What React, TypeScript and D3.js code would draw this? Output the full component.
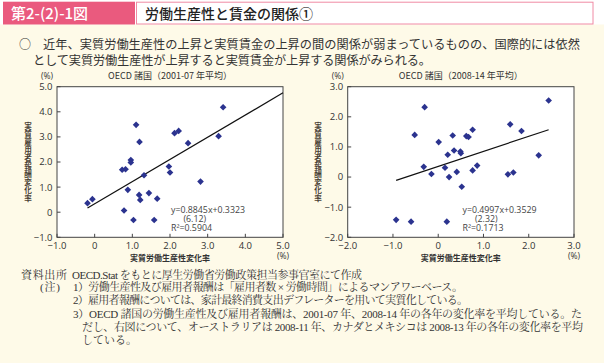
import React from "react";
import * as d3 from "d3";

// ---- data ----
const leftX = [-0.19, -0.06, 1.10, 1.19, 0.96, 0.96, 0.73, 0.82, 1.31, 0.88, 1.18, 1.21, 1.44, 1.66, 0.78, 1.03, 1.58, 1.97, 2.00, 2.12, 2.23, 2.48, 2.81, 3.29, 3.41];
const leftY = [0.36, 0.52, 3.48, 2.80, 2.08, 1.98, 1.69, 1.71, 1.47, 0.89, 0.69, 0.49, 0.76, 0.54, 0.07, -0.31, -0.31, 1.82, 1.58, 3.15, 3.24, 2.75, 1.22, 3.03, 4.18];
const rightX = [-0.93, -0.60, 0.19, -0.30, -0.52, -0.32, -0.15, 0.01, 0.21, 0.15, 0.24, 0.32, 0.35, 0.41, 0.49, 0.50, 0.52, 0.62, 0.67, 0.76, 0.76, 0.86, 1.54, 1.66, 1.59, 1.84, 2.22, 2.44];
const rightY = [-1.42, -1.48, -1.48, 2.32, 1.40, 0.34, 0.10, 1.16, 0.74, 0.31, 0.00, 1.38, 0.88, 0.17, 0.85, 0.79, -0.32, 1.36, 1.33, 1.57, 0.22, 0.38, 0.09, 0.15, 1.75, 1.53, 0.72, 2.54];
const leftTicks = [-1, 0, 1, 2, 3, 4, 5];
const rightTicks = [-2, -1, 0, 1, 2, 3];
const leftFit = { slope: 0.8845, intercept: 0.3323, x0: -0.19, x1: 5.0 };
const rightFit = { slope: 0.4997, intercept: 0.3529, x0: -0.93, x1: 2.44 };
const leftEq = ["y=0.8845x+0.3323", "(6.12)", "R²=0.5904"];
const rightEq = ["y=0.4997x+0.3529", "(2.32)", "R²=0.1713"];
const leftTitle = "OECD 諸国（2001-07 年平均）";
const rightTitle = "OECD 諸国（2008-14 年平均）";
const yLabel = "実質雇用者報酬変化率";
const xLabel = "実質労働生産性変化率";
const figNo = "第2-(2)-1図";
const figTitle = "労働生産性と賃金の関係①";
const intro1 = "近年、実質労働生産性の上昇と実質賃金の上昇の間の関係が弱まっているものの、国際的には依然";
const intro2 = "として実質労働生産性が上昇すると実質賃金が上昇する関係がみられる。";
const notes = [
  "OECD.Stat をもとに厚生労働省労働政策担当参事官室にて作成",
  "1）労働生産性及び雇用者報酬は「雇用者数 × 労働時間」によるマンアワーベース。",
  "2）雇用者報酬については、家計最終消費支出デフレーターを用いて実質化している。",
  "3）OECD 諸国の労働生産性及び雇用者報酬は、2001-07 年、2008-14 年の各年の変化率を平均している。た",
  "だし、右図について、オーストラリアは 2008-11 年、カナダとメキシコは 2008-13 年の各年の変化率を平均",
  "している。",
];

const CREAM = "#fefae8";
const PINK = "#ea5a7e";
const BLUE = "#2b338f";
const TXT = "#333";
const SANS = "'Open Sans', 'Noto Sans CJK JP', sans-serif";
const CJK = "'Noto Sans CJK JP', sans-serif";
const SERIF = "'Liberation Serif', 'Noto Serif CJK JP', 'Noto Sans CJK JP', serif";

const diamond = d3.symbol(d3.symbolSquare, 22)() as string;
const fmt = (v: number) => (v === 0 ? "0" : d3.format(".1f")(v));

function Scatter(props: {
  xs: number[]; ys: number[]; ticks: number[]; dom: [number, number];
  left: number; right: number; fit: { slope: number; intercept: number; x0: number; x1: number };
  eq: string[]; eqX: number; title: string; labelX: number;
}) {
  const { xs, ys, ticks, dom, left, right, fit, eq, eqX, title, labelX } = props;
  const top = 86.7, bottom = 237.3;
  const x = d3.scaleLinear().domain(dom).range([left, right]);
  const y = d3.scaleLinear().domain(dom).range([bottom, top]);
  const line = d3.line<number>().x((d) => x(d)).y((d) => y(fit.slope * d + fit.intercept));
  const cx = (left + right) / 2;
  return (
    <g>
      <rect x={left} y={top} width={right - left} height={bottom - top} fill="#fff" stroke="#444" strokeWidth={1} />
      {ticks.map((t) => (
        <g key={"y" + t}>
          <line x1={left} x2={left + 3.5} y1={y(t)} y2={y(t)} stroke="#444" />
          <text x={left - 4.5} y={y(t) + 3.4} textAnchor="end" fontSize={9.5} fontFamily={SANS} fill={TXT}>{fmt(t)}</text>
        </g>
      ))}
      {ticks.map((t) => (
        <g key={"x" + t}>
          <line x1={x(t)} x2={x(t)} y1={bottom} y2={bottom - 3.5} stroke="#444" />
          <text x={x(t)} y={bottom + 11.5} textAnchor="middle" fontSize={9.5} fontFamily={SANS} fill={TXT}>{fmt(t)}</text>
        </g>
      ))}
      <text x={left - 10} y={79} textAnchor="middle" fontSize={8.5} fontFamily={SANS} fill={TXT}>(%)</text>
      <text x={cx} y={79} textAnchor="middle" fontSize={9} fontFamily={CJK} fill={TXT}>{title}</text>
      <text x={right} y={258.5} textAnchor="middle" fontSize={8.5} fontFamily={SANS} fill={TXT}>(%)</text>
      <text x={cx} y={260.5} textAnchor="middle" fontSize={8} fontWeight={700} fontFamily={CJK} fill={TXT}>{xLabel}</text>
      <text x={labelX} y={162} textAnchor="middle" fontSize={7.6} fontWeight={700} fontFamily={CJK} fill="#4a3f35"
        style={{ writingMode: "vertical-rl" }} textLength={80} lengthAdjust="spacing">{yLabel}</text>
      <path d={line([fit.x0, fit.x1]) as string} stroke="#111" strokeWidth={1.2} fill="none" />
      {xs.map((v, i) => (
        <path key={i} d={diamond} transform={`translate(${x(v)},${y(ys[i])}) rotate(45)`} fill={BLUE} />
      ))}
      <text fontSize={8.8} fontFamily={SANS} fill="#444">
        <tspan x={eqX} y={213}>{eq[0]}</tspan>
        <tspan x={eqX + 12.5} y={222}>{eq[1]}</tspan>
        <tspan x={eqX} y={231}>{eq[2]}</tspan>
      </text>
    </g>
  );
}

export default function App() {
  return (
    <svg width={604} height={363} style={{ position: "absolute", left: 0, top: 0 }} xmlns="http://www.w3.org/2000/svg">
      <rect x={0} y={0} width={604} height={363} fill="#fff" />
      <rect x={0} y={24.5} width={604} height={339} fill={CREAM} />
      <rect x={3} y={1.7} width={132} height={22.8} fill={PINK} />
      <text x={11} y={19} fontSize={15} fontFamily={CJK} fill="#fff" fontWeight={500}>{figNo}</text>
      <rect x={136.5} y={2.2} width={456.5} height={21.8} fill="#fff" stroke="#f08aa4" strokeWidth={1} />
      <text x={145} y={18.8} fontSize={14} fontFamily={CJK} fill="#222" fontWeight={500}>{figTitle}</text>
      <text x={25} y={48.5} textAnchor="middle" fontSize={12} fontFamily={CJK} fill={TXT}>○</text>
      <text x={43} y={48.5} fontSize={12.2} fontFamily={CJK} fill={TXT} textLength={537} lengthAdjust="spacing">{intro1}</text>
      <text x={33} y={64.5} fontSize={12.2} fontFamily={CJK} fill={TXT} textLength={398} lengthAdjust="spacing">{intro2}</text>

      <Scatter xs={leftX} ys={leftY} ticks={leftTicks} dom={[-1, 5]} left={57} right={283}
        fit={leftFit} eq={leftEq} eqX={171} title={leftTitle} labelX={28} />
      <Scatter xs={rightX} ys={rightY} ticks={rightTicks} dom={[-2, 3]} left={347.7} right={574}
        fit={rightFit} eq={rightEq} eqX={462.5} title={rightTitle} labelX={318} />

      <text x={21} y={279} fontSize={11} fontFamily={SERIF} fill={TXT} textLength={46} lengthAdjust="spacing">資料出所</text>
      <text x={72} y={279} fontSize={11} fontFamily={SERIF} fill={TXT} textLength={290} lengthAdjust="spacing">{notes[0]}</text>
      <text x={40} y={290.8} fontSize={11} fontFamily={SERIF} fill={TXT} textLength={20} lengthAdjust="spacing">(注)</text>
      <text x={73} y={290.8} fontSize={11} fontFamily={SERIF} fill={TXT} textLength={390} lengthAdjust="spacing">{notes[1]}</text>
      <text x={73} y={304} fontSize={11} fontFamily={SERIF} fill={TXT} textLength={395} lengthAdjust="spacing">{notes[2]}</text>
      <text x={73} y={318} fontSize={11} fontFamily={SERIF} fill={TXT} textLength={509} lengthAdjust="spacing">{notes[3]}</text>
      <text x={82} y={331.3} fontSize={11} fontFamily={SERIF} fill={TXT} textLength={501} lengthAdjust="spacing">{notes[4]}</text>
      <text x={82} y={344.3} fontSize={11} fontFamily={SERIF} fill={TXT}>{notes[5]}</text>
    </svg>
  );
}
